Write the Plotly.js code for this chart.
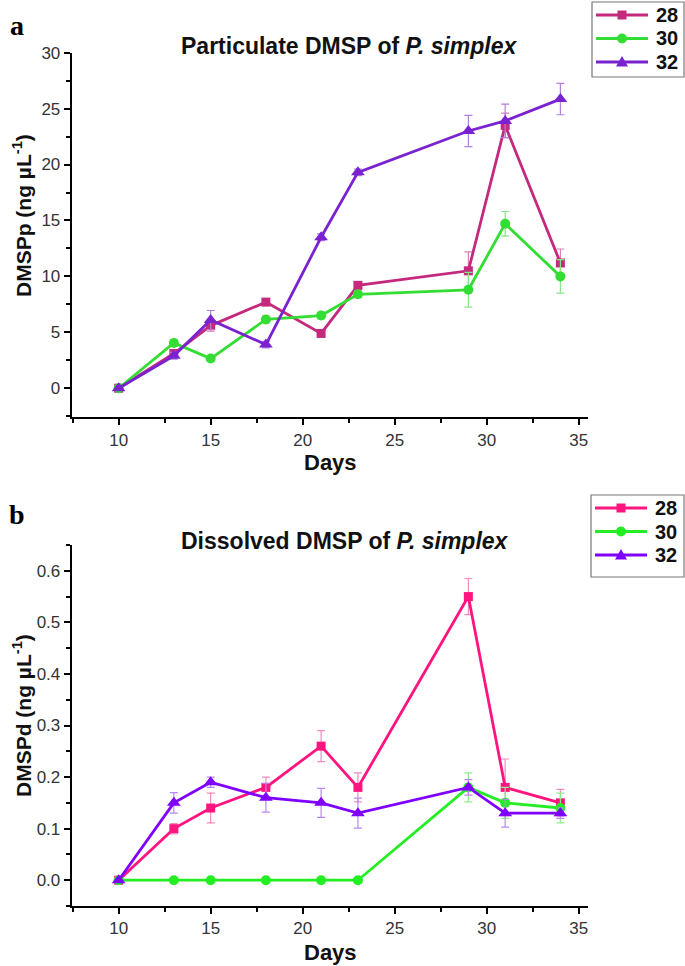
<!DOCTYPE html>
<html>
<head>
<meta charset="utf-8">
<script src="https://cdn.plot.ly/plotly-3.0.1.min.js"></script>
<style>html,body{margin:0;padding:0;background:#fff;}#chart{width:685px;height:966px;}</style>
</head>
<body>
<div id="chart"></div>
<script>
// ---- data ----
const days = [10, 13, 15, 18, 21, 23, 29, 31, 34];
const seriesNames = ["28", "30", "32"];

// Panel a: Particulate DMSP (ng/uL)
const dmspp28 = [0, 3.1, 5.6, 7.7, 4.9, 9.2, 10.5, 23.5, 11.2];
const dmspp30 = [0, 4.05, 2.65, 6.15, 6.5, 8.4, 8.8, 14.7, 10.0];
const dmspp32 = [0, 2.9, 6.1, 3.9, 13.5, 19.3, 23.0, 23.9, 25.85];
const dmspp28Err = [0, 0.3, 0.5, 0.3, 0.3, 0.3, 1.7, 1.1, 1.25];
const dmspp30Err = [0, 0.3, 0.2, 0.3, 0.3, 0.3, 1.55, 1.1, 1.5];
const dmspp32Err = [0, 0.3, 0.85, 0.3, 0.3, 0.3, 1.4, 1.5, 1.4];

// Panel b: Dissolved DMSP (ng/uL)
const dmspd28 = [0, 0.10, 0.14, 0.18, 0.26, 0.18, 0.55, 0.18, 0.15];
const dmspd30 = [0, 0, 0, 0, 0, 0, 0.18, 0.15, 0.14];
const dmspd32 = [0, 0.15, 0.19, 0.16, 0.15, 0.13, 0.18, 0.13, 0.13];
const dmspd28Err = [0, 0.01, 0.029, 0.02, 0.03, 0.028, 0.035, 0.055, 0.026];
const dmspd30Err = [0, 0, 0, 0, 0, 0, 0.028, 0.03, 0.029];
const dmspd32Err = [0, 0.02, 0.01, 0.028, 0.028, 0.029, 0.015, 0.027, 0.01];

const xTicks = [10, 15, 20, 25, 30, 35];
const yTicksA = [0, 5, 10, 15, 20, 25, 30];
const yTicksB = [0, 0.1, 0.2, 0.3, 0.4, 0.5, 0.6];

// ---- styles ----
const colA = ["#C4297E", "#33DD33", "#7A22D0"];
const errA = ["#D77FB6", "#88E888", "#B27FE0"];
const colB = ["#FF1480", "#22EE22", "#8000FF"];
const errB = ["#F08BC0", "#8BEE8B", "#B888F2"];
const symbols = ["square", "circle", "triangle-up"];
const msizes = [9, 10, 12];

function mk(x, y, err, i, cols, ecols, xa, ya) {
  return {
    x: x, y: y, name: seriesNames[i], type: "scatter", mode: "lines+markers",
    xaxis: xa, yaxis: ya, showlegend: false,
    line: {color: cols[i], width: 2.8},
    marker: {symbol: symbols[i], size: msizes[i], color: cols[i]},
    error_y: {type: "data", array: err, visible: true, color: ecols[i], thickness: 1.2, width: 4},
    cliponaxis: false
  };
}

const traces = [
  mk(days, dmspp28, dmspp28Err, 0, colA, errA, "x", "y"),
  mk(days, dmspp30, dmspp30Err, 1, colA, errA, "x", "y"),
  mk(days, dmspp32, dmspp32Err, 2, colA, errA, "x", "y"),
  mk(days, dmspd28, dmspd28Err, 0, colB, errB, "x2", "y2"),
  mk(days, dmspd30, dmspd30Err, 1, colB, errB, "x2", "y2"),
  mk(days, dmspd32, dmspd32Err, 2, colB, errB, "x2", "y2")
];

const W = 685, H = 966;
const fx = px => px / W;
const fy = py => 1 - py / H;
const SANS = "Liberation Sans, Arial, sans-serif";
const tickFont = {family: SANS, size: 17, color: "#333"};
const axTitleFont = {family: SANS, size: 21, color: "#111"};

function xax(anchor) {
  return {
    domain: [fx(71.7), fx(588)], anchor: anchor, range: [7.45, 35.5],
    tickmode: "array", tickvals: xTicks, ticks: "outside", ticklen: 6, tickwidth: 2, tickcolor: "#000",
    minor: {dtick: 2.5, tick0: 0, ticks: "outside", ticklen: 4, tickwidth: 2, tickcolor: "#000"},
    showline: true, linecolor: "#000", linewidth: 2, showgrid: false, zeroline: false,
    tickfont: tickFont
  };
}
function yax(anchor, dom, rng, ticks, minorDt, fmt) {
  return {
    domain: dom, anchor: anchor, range: rng,
    tickmode: "array", tickvals: ticks, tickformat: fmt, ticks: "outside", ticklen: 6, tickwidth: 2, tickcolor: "#000",
    minor: {dtick: minorDt, tick0: 0, ticks: "outside", ticklen: 4, tickwidth: 2, tickcolor: "#000"},
    showline: true, linecolor: "#000", linewidth: 2, showgrid: false, zeroline: false,
    tickfont: tickFont
  };
}
function ann(text, xp, yp, font, angle, xanchor) {
  return {text: text, x: fx(xp), y: fy(yp), xref: "paper", yref: "paper", showarrow: false,
          xanchor: xanchor || "center", yanchor: "middle", font: font, textangle: angle || 0};
}

// ---- legends (boxed key, drawn as layout shapes + text) ----
const shapes = [];
const annotations = [];
function legendBox(box, rows, cols) {
  shapes.push({type: "rect", xref: "paper", yref: "paper",
    x0: fx(box.l), x1: fx(box.r), y0: fy(box.b), y1: fy(box.t),
    line: {color: "#777", width: 1.2}, fillcolor: "#fff", layer: "above"});
  rows.forEach((ry, i) => {
    const c = cols[i];
    shapes.push({type: "line", xref: "paper", yref: "paper", x0: fx(box.l + 4), x1: fx(box.l + 56),
      y0: fy(ry), y1: fy(ry), line: {color: c, width: 2.8}, layer: "above"});
    const mx = box.l + 30;
    if (symbols[i] === "square") {
      shapes.push({type: "rect", xref: "paper", yref: "paper", x0: fx(mx - 4.5), x1: fx(mx + 4.5),
        y0: fy(ry + 4.5), y1: fy(ry - 4.5), fillcolor: c, line: {width: 0}, layer: "above"});
    } else if (symbols[i] === "circle") {
      shapes.push({type: "circle", xref: "paper", yref: "paper", x0: fx(mx - 5), x1: fx(mx + 5),
        y0: fy(ry + 5), y1: fy(ry - 5), fillcolor: c, line: {width: 0}, layer: "above"});
    } else {
      shapes.push({type: "path", xref: "paper", yref: "paper",
        path: "M" + fx(mx - 6) + "," + fy(ry + 4.5) + " L" + fx(mx + 6) + "," + fy(ry + 4.5) +
              " L" + fx(mx) + "," + fy(ry - 6) + " Z",
        fillcolor: c, line: {width: 0}, layer: "above"});
    }
    annotations.push(ann("<b>" + seriesNames[i] + "</b>", box.l + 62, ry, {family: SANS, size: 20, color: "#111"}, 0, "left"));
  });
}
legendBox({l: 592, r: 684, t: 2, b: 77}, [15, 38.5, 62], colA);
legendBox({l: 591, r: 684, t: 495, b: 577}, [508, 531.5, 555], colB);

annotations.push(
  ann("<b>a</b>", 17, 26, {family: "Liberation Serif, Times New Roman, serif", size: 28, color: "#000"}),
  ann("<b>b</b>", 17, 514, {family: "Liberation Serif, Times New Roman, serif", size: 28, color: "#000"}),
  ann("<b>Particulate DMSP of <i>P. simplex</i></b>", 349, 46, {family: SANS, size: 23, color: "#111"}),
  ann("<b>Dissolved DMSP of <i>P. simplex</i></b>", 345, 541, {family: SANS, size: 23, color: "#111"}),
  ann("<b>DMSPp (ng µL<sup>-1</sup>)</b>", 22, 216, axTitleFont, -90),
  ann("<b>DMSPd (ng µL<sup>-1</sup>)</b>", 22, 716, axTitleFont, -90),
  ann("<b>Days</b>", 330, 462, {family: SANS, size: 22, color: "#111"}),
  ann("<b>Days</b>", 330, 952, {family: SANS, size: 22, color: "#111"})
);

const layout = {
  width: W, height: H,
  margin: {l: 0, r: 0, t: 0, b: 0},
  paper_bgcolor: "#fff", plot_bgcolor: "#fff",
  showlegend: false,
  xaxis: xax("y"),
  yaxis: yax("x", [fy(417.3), fy(52.7)], [-2.6, 30], yTicksA, 2.5, ""),
  xaxis2: xax("y2"),
  yaxis2: yax("x2", [fy(906), fy(545)], [-0.05, 0.65], yTicksB, 0.05, ".1f"),
  shapes: shapes,
  annotations: annotations
};

Plotly.newPlot("chart", traces, layout, {displayModeBar: false, staticPlot: true});
</script>
</body>
</html>
